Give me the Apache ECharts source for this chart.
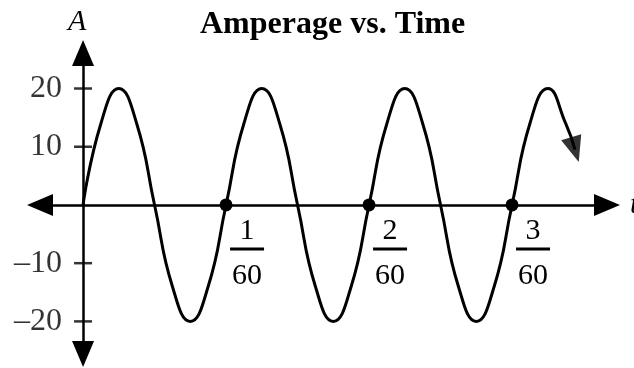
<!DOCTYPE html>
<html>
<head>
    <meta charset="UTF-8">
    <title>Amperage vs. Time</title>
    <script type="text/javascript" src="https://cdn.jsdelivr.net/npm/echarts@6/dist/echarts.min.js"></script>
    <style>
        html, body { margin: 0; padding: 0; background: #fff; }
        #main { width: 634px; height: 368px; }
    </style>
</head>
<body>
<div id="main"></div>
<script type="text/javascript">
    // time is in units of 1/60 s, amperage in A
    var timeValues = [0, 0.125, 0.25, 0.375, 0.5, 0.625, 0.75, 0.875,
        1, 1.125, 1.25, 1.375, 1.5, 1.625, 1.75, 1.875,
        2, 2.125, 2.25, 2.375, 2.5, 2.625, 2.75, 2.875,
        3, 3.125, 3.25, 3.375, 3.44];
    var ampValues = [0, 14, 20, 14, 0, -14, -20, -14,
        0, 14, 20, 14, 0, -14, -20, -14,
        0, 14, 20, 14, 0, -14, -20, -14,
        0, 14, 20, 14, 9.5];
    var yTicks = [-20, -10, 10, 20];
    var crossings = [1, 2, 3];   // marked zeros, in 1/60 s

    var serif = 'Liberation Serif';

    var curve = [];
    for (var i = 0; i < timeValues.length; i++) {
        curve.push([timeValues[i], ampValues[i]]);
    }
    var last = curve[curve.length - 1];

    var tickMarks = [];
    for (var j = 0; j < yTicks.length; j++) {
        tickMarks.push([0, yTicks[j]]);
    }
    var dots = [];
    for (var k = 0; k < crossings.length; k++) {
        dots.push([crossings[k], 0]);
    }

    var myChart = echarts.init(document.getElementById("main"));
    myChart.setOption({
        animation: false,
        textStyle: { fontFamily: serif },
        title: {
            text: 'Amperage vs. Time',
            left: 195,
            top: 4,
            textStyle: { fontFamily: serif, fontSize: 32, fontWeight: 'bold', color: '#000' }
        },
        grid: { left: 40, right: 27, top: 53, bottom: 14, containLabel: false, outerBoundsMode: 'none' },
        xAxis: {
            type: 'value',
            min: -0.301,
            max: 3.664,
            name: 't',
            nameLocation: 'end',
            nameGap: 23,
            nameTextStyle: { fontFamily: serif, fontSize: 30, fontStyle: 'italic', color: '#000' },
            splitLine: { show: false },
            axisTick: { show: false },
            axisLabel: { show: false },
            axisLine: {
                onZero: true,
                symbol: ['triangle', 'triangle'],
                symbolSize: [22, 26],
                lineStyle: { color: '#000', width: 2.5 }
            }
        },
        yAxis: {
            type: 'value',
            min: -25.6,
            max: 26.1,
            name: 'A',
            nameLocation: 'end',
            nameGap: 16,
            nameTextStyle: { fontFamily: serif, fontSize: 30, fontStyle: 'italic', color: '#000', padding: [0, 12, 0, 0] },
            splitLine: { show: false },
            axisTick: { show: false },
            axisLabel: { show: false },
            axisLine: {
                onZero: true,
                symbol: ['triangle', 'triangle'],
                symbolSize: [22, 26],
                lineStyle: { color: '#000', width: 2.5 }
            }
        },
        series: [
            {
                type: 'line',
                data: curve,
                smooth: 0.5,
                showSymbol: false,
                lineStyle: { color: '#000', width: 3 },
                z: 3
            },
            {
                // crossing ticks on the A axis, with their labels
                type: 'scatter',
                data: tickMarks,
                symbol: 'rect',
                symbolSize: [18, 2.5],
                itemStyle: { color: '#000' },
                z: 2,
                label: {
                    show: true,
                    position: 'left',
                    distance: 12,
                    fontFamily: serif,
                    fontSize: 32,
                    color: '#000',
                    textBorderWidth: 0,
                    formatter: function (p) {
                        var v = p.value[1];
                        return v < 0 ? '\u2013' + Math.abs(v) : String(v);
                    }
                }
            },
            {
                type: 'scatter',
                data: [last],
                symbol: 'triangle',
                symbolSize: [21, 26],
                symbolRotate: 197,
                itemStyle: { color: '#000' },
                z: 4
            },
            {
                type: 'scatter',
                data: dots,
                symbolSize: 13,
                itemStyle: { color: '#000', opacity: 1 },
                z: 5,
                label: {
                    show: true,
                    position: 'bottom',
                    distance: 4,
                    offset: [21, 0],
                    align: 'center',
                    textBorderWidth: 0,
                    formatter: function (p) {
                        return '{n|' + p.value[0] + '}\n{bar|}\n{d|60}';
                    },
                    rich: {
                        n: { fontFamily: serif, fontSize: 30, lineHeight: 32, color: '#000', align: 'center', textBorderWidth: 0 },
                        bar: { width: 34, height: 3, backgroundColor: '#000', align: 'center' },
                        d: { fontFamily: serif, fontSize: 30, lineHeight: 52, color: '#000', align: 'center', textBorderWidth: 0 }
                    }
                }
            }
        ]
    });
</script>
</body>
</html>
